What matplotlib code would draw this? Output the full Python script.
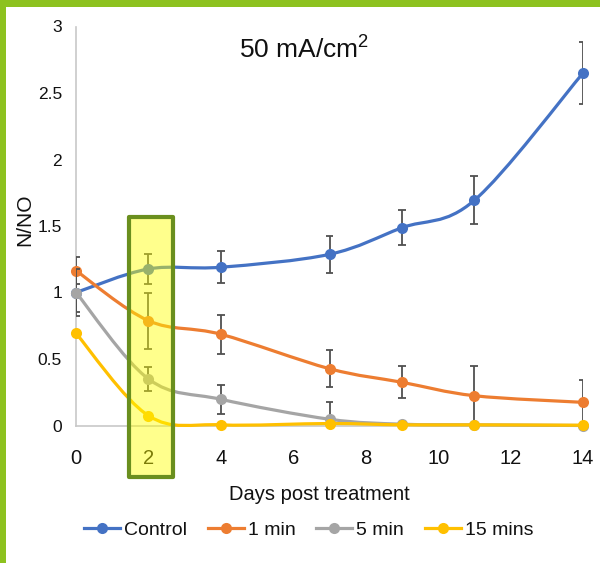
import matplotlib
matplotlib.use("Agg")
import matplotlib.pyplot as plt
from matplotlib.path import Path
from matplotlib.patches import PathPatch, Rectangle
from matplotlib.lines import Line2D
import numpy as np

plt.rcParams['font.family'] = ['Liberation Sans', 'DejaVu Sans']
plt.rcParams['mathtext.default'] = 'regular'

days = [0, 2, 4, 7, 9, 11, 14]
series_names = ["Control", "1 min", "5 min", "15 mins"]
control = [1.0, 1.177, 1.19, 1.287, 1.487, 1.693, 2.65]
control_err = [0.15, 0.11, 0.12, 0.14, 0.13, 0.18, 0.23]
min1 = [1.164, 0.788, 0.686, 0.427, 0.325, 0.224, 0.174]
min1_err = [0.10, 0.21, 0.145, 0.14, 0.12, 0.22, 0.17]
min5 = [1.0, 0.35, 0.197, 0.047, 0.01, 0.005, 0.0]
min5_err = [0.18, 0.09, 0.11, 0.13, 0.0, 0.0, 0.0]
min15 = [0.693, 0.074, 0.005, 0.015, 0.005, 0.005, 0.002]
min15_err = [0.0, 0.0, 0.0, 0.0, 0.0, 0.0, 0.0]
colors = ["#4472C4", "#ED7D31", "#A5A5A5", "#FFC000"]
xticks = [0, 2, 4, 6, 8, 10, 12, 14]
yticks = [0, 0.5, 1, 1.5, 2, 2.5, 3]
ytick_labels = ["0", "0.5", "1", "1.5", "2", "2.5", "3"]

fig = plt.figure(figsize=(6, 5.63), dpi=100)
fig.patch.set_facecolor("white")
ax = fig.add_axes([76/600, 137.5/563, 507/600, 399/563])
ax.set_xlim(0, 14)
ax.set_ylim(0, 3)

def smooth_path(xs, ys):
    P = np.column_stack([xs, ys]).astype(float)
    n = len(P)
    verts = [P[0]]
    codes = [Path.MOVETO]
    for i in range(n - 1):
        p0 = P[max(i - 1, 0)]
        p1 = P[i]
        p2 = P[i + 1]
        p3 = P[min(i + 2, n - 1)]
        c1 = p1 + (p2 - p0) / 6.0
        c2 = p2 - (p3 - p1) / 6.0
        verts += [c1, c2, p2]
        codes += [Path.CURVE4] * 3
    return Path(verts, codes)

cap_half = 0.11  # half width of error-bar caps, in days
all_vals = [control, min1, min5, min15]
all_errs = [control_err, min1_err, min5_err, min15_err]
for i, (vals, errs, c) in enumerate(zip(all_vals, all_errs, colors)):
    z = 3 + i
    patch = PathPatch(smooth_path(days, vals), fill=False, edgecolor=c,
                      lw=2.3, zorder=z, clip_on=False, capstyle='round')
    ax.add_patch(patch)
    xe = np.array([d for d, e in zip(days, errs) if e > 0], dtype=float)
    ye = np.array([v for v, e in zip(vals, errs) if e > 0])
    ee = np.array([e for e in errs if e > 0])
    if len(xe):
        ax.errorbar(xe, ye, yerr=ee, fmt='none', ecolor="#505050",
                    elinewidth=1.3, capsize=0, zorder=z)
        ax.hlines(np.concatenate([ye + ee, ye - ee]),
                  np.concatenate([xe, xe]) - cap_half,
                  np.concatenate([xe, xe]) + cap_half,
                  colors="#505050", lw=1.3, zorder=z)
    ax.plot(days, vals, 'o', color=c, markersize=8, zorder=z + 0.5,
            clip_on=False, markeredgewidth=0)

for s in ["top", "right"]:
    ax.spines[s].set_visible(False)
for s in ["left", "bottom"]:
    ax.spines[s].set_color("#C8C8C8")
    ax.spines[s].set_linewidth(1.2)

ax.set_xticks(xticks)
ax.set_yticks(yticks)
ax.set_yticklabels(ytick_labels)
ax.tick_params(axis='y', length=0, pad=10, labelsize=12.5, labelcolor="#111111")
ax.tick_params(axis='x', length=0, pad=17, labelsize=14.5, labelcolor="#111111")

ax.set_xlabel("Days post treatment", fontsize=14.5, color="#111111")
ax.xaxis.set_label_coords((319 - 76) / 507, (425.5 - 495) / 399)
ax.xaxis.label.set_va('center')
ax.set_ylabel("N/NO", fontsize=15, color="#111111")
ax.yaxis.set_label_coords((25 - 76) / 507, (425.5 - 220) / 399)
ax.yaxis.label.set_va('center')

ax.text(0.45, 0.94, "50 mA/cm$^2$", transform=ax.transAxes, ha='center', va='center',
        fontsize=19, color="#111111")

handles = [Line2D([], [], color=c, lw=2.3, marker='o', markersize=8, markeredgewidth=0)
           for c in colors]
leg = ax.legend(handles, series_names, loc='center', bbox_to_anchor=((308.5 - 76) / 507, (425.5 - 530) / 399),
                ncol=4, frameon=False, fontsize=14, handlelength=1.85, handletextpad=0.2,
                columnspacing=1.08, borderaxespad=0)
for t in leg.get_texts():
    t.set_color("#111111")

# highlight box
hx0, hx1 = 1.455, 2.67
hy0, hy1 = -0.385, 1.571
ax.add_patch(Rectangle((hx0, hy0), hx1 - hx0, hy1 - hy0, facecolor="#FFFF00", alpha=0.45,
                       edgecolor='none', zorder=10, clip_on=False))
ax.add_patch(Rectangle((hx0, hy0), hx1 - hx0, hy1 - hy0, facecolor='none',
                       edgecolor="#6A8F1E", lw=3.0, zorder=11, clip_on=False, joinstyle='round'))

# green frame
fig.patches.append(Rectangle((0, 0), 6/600, 1, transform=fig.transFigure,
                             facecolor="#8DC21F", edgecolor='none', zorder=20))
fig.patches.append(Rectangle((0, 1 - 7/563), 1, 7/563, transform=fig.transFigure,
                             facecolor="#8DC21F", edgecolor='none', zorder=20))

fig.savefig("out.png", dpi=100)
